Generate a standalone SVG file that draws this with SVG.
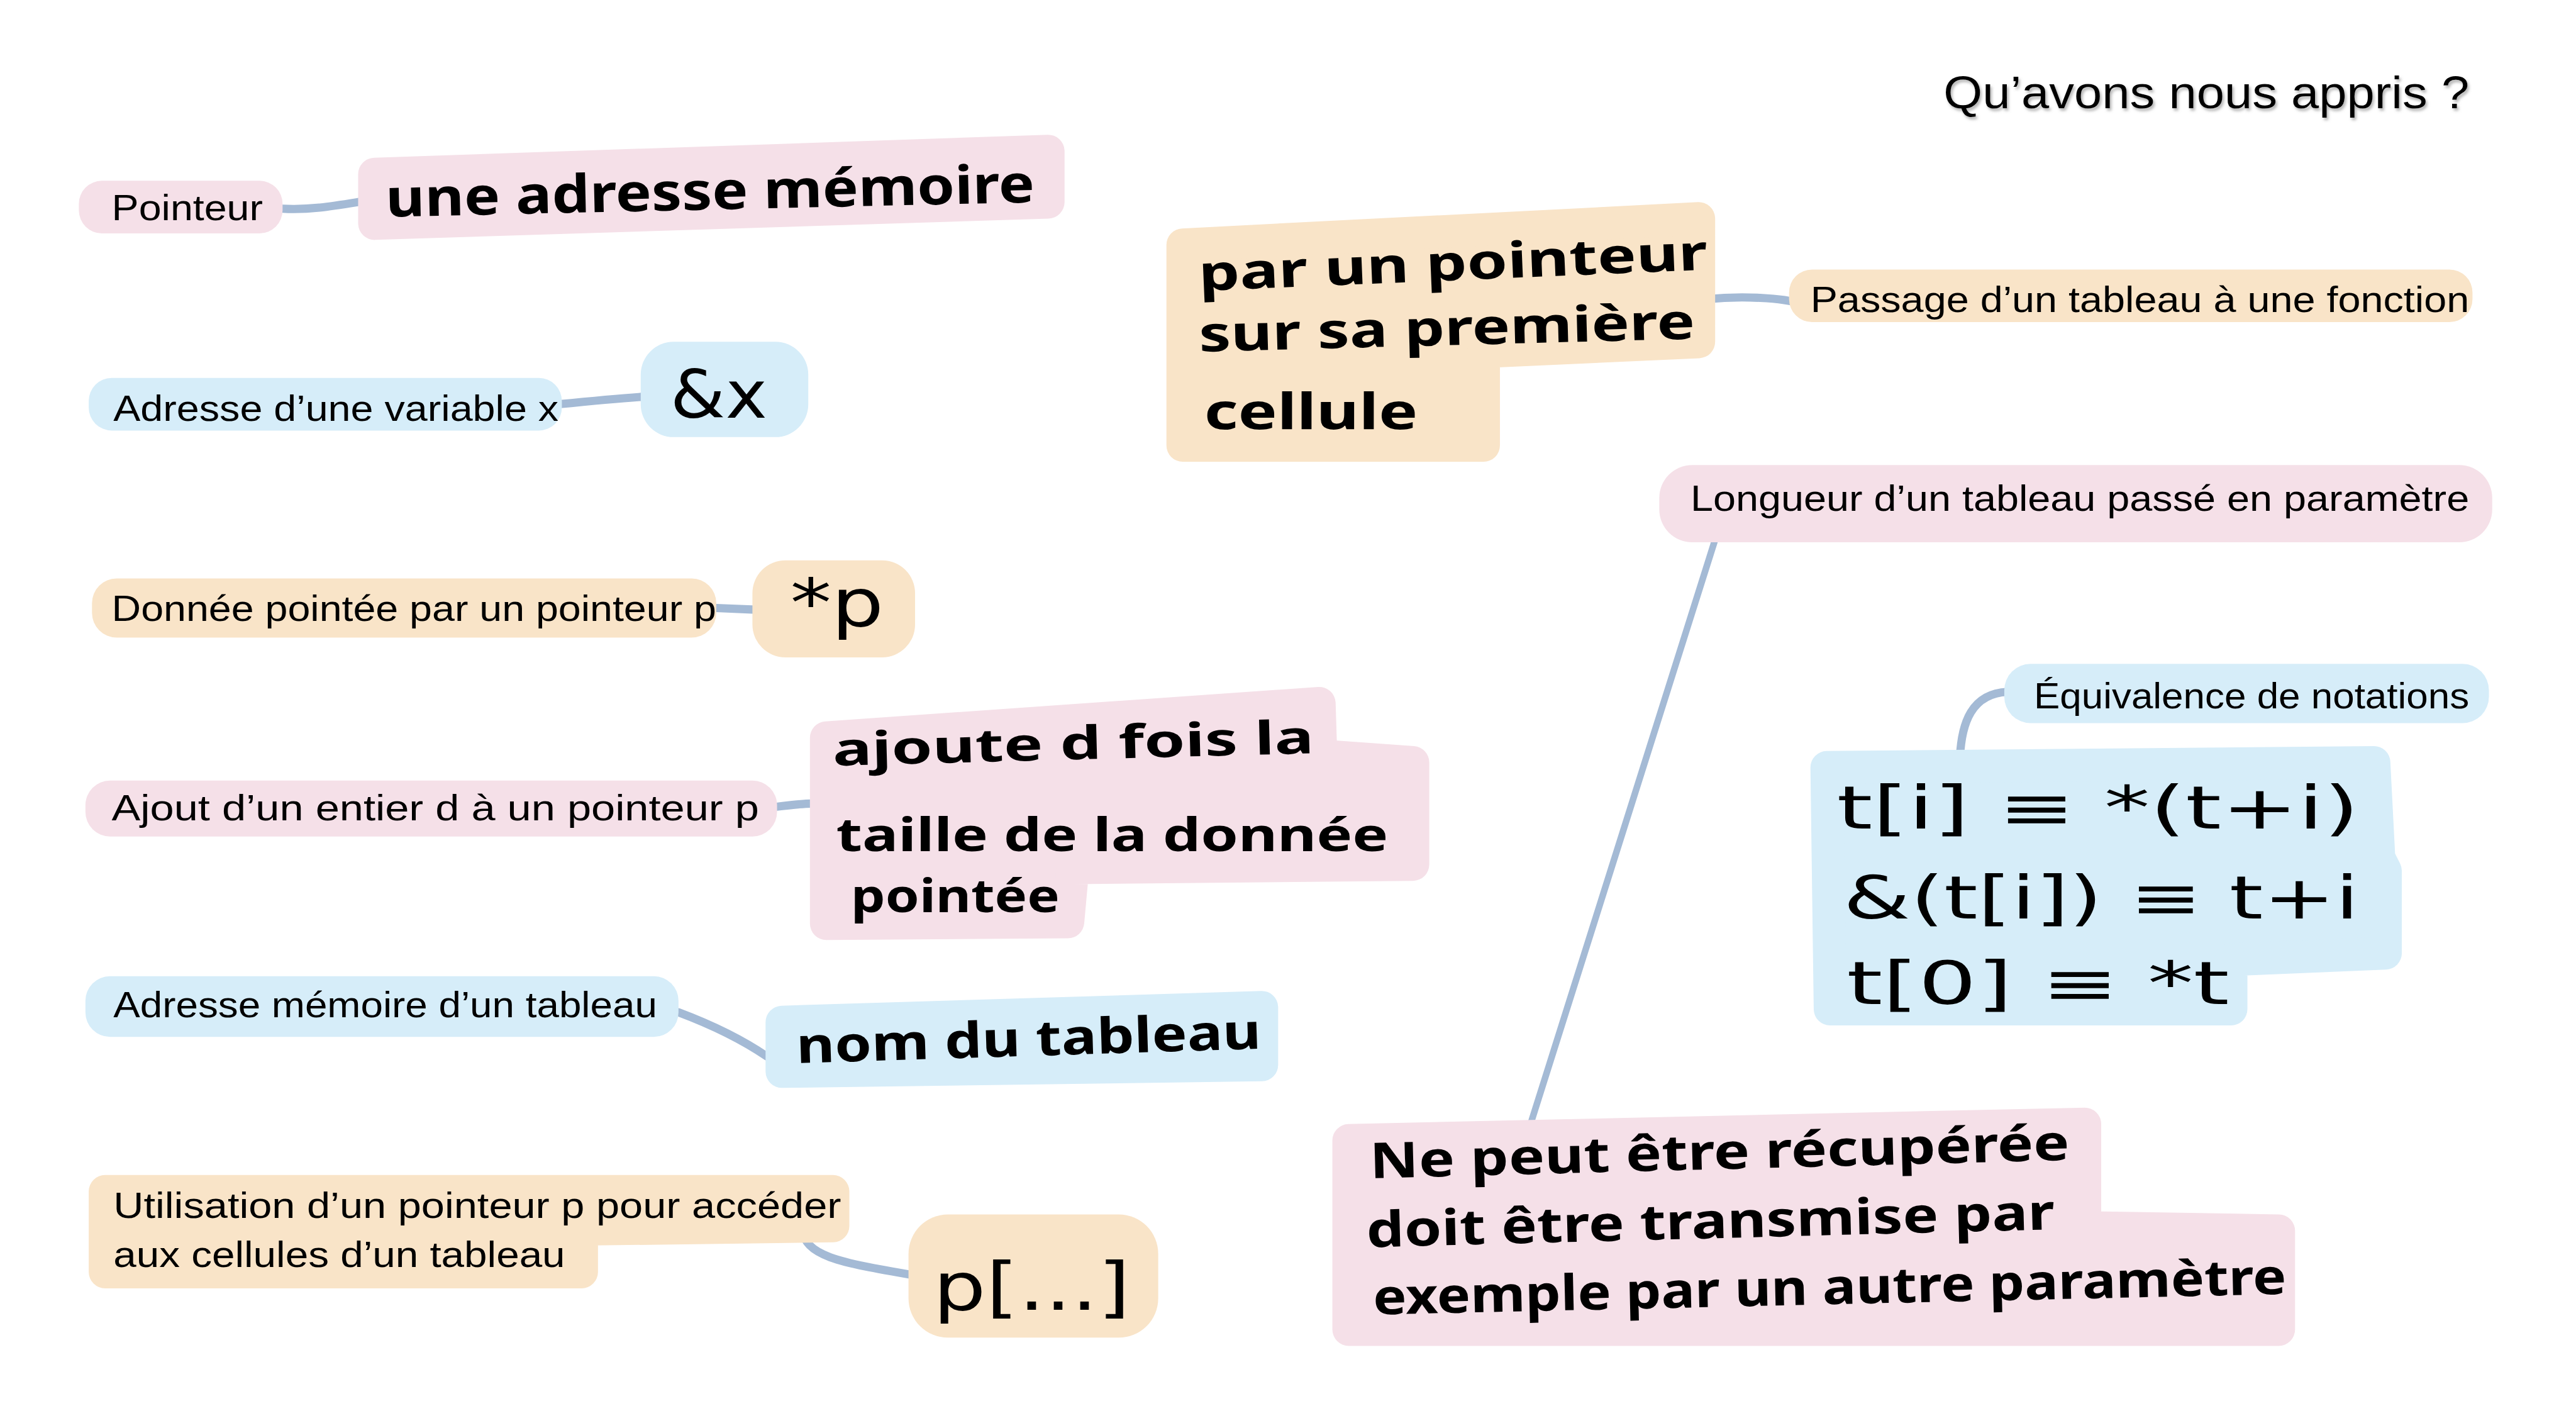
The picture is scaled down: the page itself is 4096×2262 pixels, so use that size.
<svg xmlns="http://www.w3.org/2000/svg" width="4096" height="2262" viewBox="0 0 4096 2262">
<defs>
<style>
.pink{fill:#f5e0e8;stroke:#f5e0e8;stroke-width:20;stroke-linejoin:round}
.blue{fill:#d6edf9;stroke:#d6edf9;stroke-width:20;stroke-linejoin:round}
.orange{fill:#f9e4c8;stroke:#f9e4c8;stroke-width:20;stroke-linejoin:round}
.pinkr{fill:#f5e0e8}
.bluer{fill:#d6edf9}
.oranger{fill:#f9e4c8}
.lbl{font-family:"Liberation Sans","DejaVu Sans",sans-serif;font-size:22px;fill:#000}
.hand{font-family:"Noto Sans","DejaVu Sans",sans-serif;font-weight:700;font-size:30px;fill:#000}
.math{font-family:"DejaVu Sans",sans-serif;font-weight:400;font-size:36px;fill:#000}
.title{font-family:"Liberation Sans","DejaVu Sans",sans-serif;font-size:28px;fill:#000}
.conn{fill:none;stroke:#a4bad5;stroke-width:5;stroke-linecap:round}
</style>
<filter id="sh" x="-5%" y="-20%" width="110%" height="150%">
<feDropShadow dx="1" dy="1.5" stdDeviation="0.8" flood-color="#777" flood-opacity="0.55"/>
</filter>
</defs>
<rect width="4096" height="2262" fill="#fff"/>
<g transform="scale(2.61224)">
<g id="connectors">
<path class="conn" d="M172,127 C190,128 205,125 224,122"/>
<path class="conn" d="M340,246 C360,244 380,242 398,241"/>
<path class="conn" d="M436,370 L460,371"/>
<path class="conn" d="M472,491 C480,490 488,489 494,489"/>
<path class="conn" d="M413,616 Q445,628 467,643"/>
<path class="conn" d="M488,747 C490,765 510,768 562,777"/>
<path class="conn" d="M1039,182 C1060,180 1085,181 1097,185"/>
<path class="conn" style="stroke-width:4" d="M1046,322 L931,686"/>
<path class="conn" d="M1222,421 C1200,422 1194,440 1193,461"/>
</g>

<g id="title">
<text class="title" x="1183" y="66" textLength="320" lengthAdjust="spacingAndGlyphs" filter="url(#sh)">Qu’avons nous appris ?</text>
</g>

<g id="n-pointeur">
<rect class="pinkr" x="48" y="110" width="124" height="32" rx="14"/>
<text class="lbl" x="68" y="134" textLength="92" lengthAdjust="spacingAndGlyphs">Pointeur</text>
</g>
<g id="n-adresse-memoire">
<path class="pink" d="M228,106 L638,92 L638,123 L228,136 Z"/>
<text class="hand" style="font-size:32px" x="235" y="132" textLength="395" lengthAdjust="spacingAndGlyphs" transform="rotate(-1.3 235 132)">une adresse mémoire</text>
</g>

<g id="n-adresse-variable">
<rect class="bluer" x="54" y="230" width="288" height="32" rx="14"/>
<text class="lbl" x="69" y="256" textLength="271" lengthAdjust="spacingAndGlyphs">Adresse d’une variable x</text>
</g>
<g id="n-ampx">
<rect class="bluer" x="390" y="208" width="102" height="58" rx="20"/>
<text class="math" style="font-size:40px" x="408" y="254" textLength="59" lengthAdjust="spacingAndGlyphs">&amp;x</text>
</g>

<g id="n-donnee">
<rect class="oranger" x="56" y="352" width="380" height="36" rx="15"/>
<text class="lbl" x="68" y="378" textLength="368" lengthAdjust="spacingAndGlyphs">Donnée pointée par un pointeur p</text>
</g>
<g id="n-starp">
<rect class="oranger" x="458" y="341" width="99" height="59" rx="20"/>
<text class="math" style="font-size:40px" x="481" y="381" textLength="57" lengthAdjust="spacingAndGlyphs">*p</text>
</g>

<g id="n-ajout">
<rect class="pinkr" x="52" y="475" width="421" height="34" rx="15"/>
<text class="lbl" x="68" y="499" textLength="394" lengthAdjust="spacingAndGlyphs">Ajout d’un entier d à un pointeur p</text>
</g>
<g id="n-ajoute">
<path class="pink" d="M503,449 L803,428 L804,460 L860,464 L860,526 L653,528 L650,561 L503,562 Z"/>
<text class="hand" style="font-size:28px" x="507" y="466" textLength="293" lengthAdjust="spacingAndGlyphs" transform="rotate(-1.5 507 466)">ajoute d fois la</text>
<text class="hand" style="font-size:28px" x="509" y="518" textLength="336" lengthAdjust="spacingAndGlyphs">taille de la donnée</text>
<text class="hand" style="font-size:28px" x="518" y="555" textLength="127" lengthAdjust="spacingAndGlyphs">pointée</text>
</g>

<g id="n-adresse-tableau">
<rect class="bluer" x="52" y="594" width="361" height="37" rx="15"/>
<text class="lbl" x="69" y="619" textLength="331" lengthAdjust="spacingAndGlyphs">Adresse mémoire d’un tableau</text>
</g>
<g id="n-nom-tableau">
<path class="blue" d="M476,622 L768,613 L768,648 L476,652 Z"/>
<text class="hand" x="485" y="647" textLength="283" lengthAdjust="spacingAndGlyphs" transform="rotate(-1.8 485 647)">nom du tableau</text>
</g>

<g id="n-utilisation">
<path class="orange" d="M64,725 L507,725 L507,746 L354,748 L354,774 L64,774 Z"/>
<text class="lbl" x="69" y="741" textLength="443" lengthAdjust="spacingAndGlyphs">Utilisation d’un pointeur p pour accéder</text>
<text class="lbl" x="69" y="771" textLength="275" lengthAdjust="spacingAndGlyphs">aux cellules d’un tableau</text>
</g>
<g id="n-pcrochets">
<rect class="oranger" x="553" y="739" width="152" height="75" rx="24"/>
<text class="math" style="font-size:40px" x="568" y="797" textLength="120" lengthAdjust="spacingAndGlyphs">p[...]</text>
</g>

<g id="n-par-pointeur">
<path class="orange" d="M720,149 L1034,133 L1034,208 L903,214 L903,271 L720,271 Z"/>
<text class="hand" x="730" y="177" textLength="310" lengthAdjust="spacingAndGlyphs" transform="rotate(-2.4 730 177)">par un pointeur</text>
<text class="hand" x="730" y="214" textLength="302" lengthAdjust="spacingAndGlyphs" transform="rotate(-1.5 730 214)">sur sa première</text>
<text class="hand" x="733" y="261" textLength="130" lengthAdjust="spacingAndGlyphs">cellule</text>
</g>
<g id="n-passage">
<rect class="oranger" x="1089" y="164" width="416" height="32" rx="14"/>
<text class="lbl" x="1102" y="190" textLength="401" lengthAdjust="spacingAndGlyphs">Passage d’un tableau à une fonction</text>
</g>

<g id="n-longueur">
<rect class="pinkr" x="1010" y="283" width="507" height="47" rx="20"/>
<text class="lbl" x="1029" y="311" textLength="474" lengthAdjust="spacingAndGlyphs">Longueur d’un tableau passé en paramètre</text>
</g>

<g id="n-equivalence">
<rect class="bluer" x="1220" y="404" width="295" height="36" rx="16"/>
<text class="lbl" x="1238" y="431" textLength="265" lengthAdjust="spacingAndGlyphs">Équivalence de notations</text>
</g>
<g id="n-formules">
<path class="blue" d="M1112,467 L1445,464 L1448,522 L1452,530 L1452,580 L1358,584 L1358,614 L1114,614 Z"/>
<text class="math" x="1118" y="504" textLength="318" lengthAdjust="spacingAndGlyphs">t[i] ≡ *(t+i)</text>
<text class="math" x="1122" y="559" textLength="314" lengthAdjust="spacingAndGlyphs">&amp;(t[i]) ≡ t+i</text>
<text class="math" x="1124" y="611" textLength="233" lengthAdjust="spacingAndGlyphs">t[0] ≡ *t</text>
</g>

<g id="n-ne-peut">
<path class="pink" d="M821,694 L1269,684 L1269,747 L1387,749 L1387,809 L821,809 Z"/>
<text class="hand" x="834" y="717" textLength="426" lengthAdjust="spacingAndGlyphs" transform="rotate(-1.5 834 717)">Ne peut être récupérée</text>
<text class="hand" x="832" y="759" textLength="419" lengthAdjust="spacingAndGlyphs" transform="rotate(-1.5 832 759)">doit être transmise par</text>
<text class="hand" x="836" y="800" textLength="556" lengthAdjust="spacingAndGlyphs" transform="rotate(-1.3 836 800)">exemple par un autre paramètre</text>
</g>
</g>
</svg>
